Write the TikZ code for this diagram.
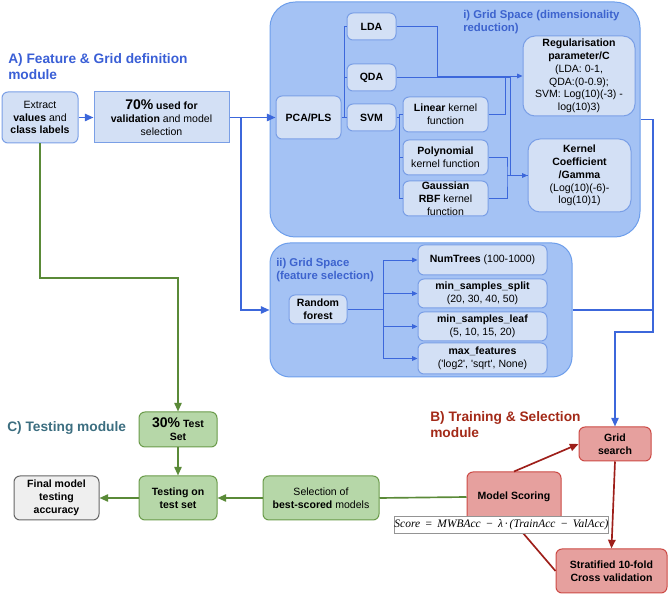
\documentclass[tikz,border=0pt]{standalone}
\usepackage{fontspec}
\setmainfont{Liberation Sans}
\newfontfamily\frmfont{Liberation Serif}
\usetikzlibrary{arrows.meta}
\definecolor{pfill}{HTML}{A4C2F4}
\definecolor{pline}{HTML}{6D9EEB}
\definecolor{bxfill}{HTML}{D3E0F5}
\definecolor{bxline}{HTML}{7A9FE6}
\definecolor{bluelink}{HTML}{3C67DB}
\definecolor{titA}{HTML}{3A5FD6}
\definecolor{titI}{HTML}{3D63CE}
\definecolor{gfill}{HTML}{B6D7A8}
\definecolor{gline}{HTML}{6A9B4A}
\definecolor{glink}{HTML}{5A8A38}
\definecolor{titC}{HTML}{3C6E80}
\definecolor{titB}{HTML}{A32A18}
\definecolor{rfill}{HTML}{E6A09E}
\definecolor{rline}{HTML}{CC4A45}
\definecolor{rlink}{HTML}{9E1F1A}
\definecolor{gyfill}{HTML}{EFEFEF}
\definecolor{gyline}{HTML}{666666}
\newcommand\mybox{\fontsize{7.9}{9.6}\selectfont}
\newcommand\myhead{\fontsize{10.3}{12}\selectfont\bfseries}
\newcommand\mypanel{\fontsize{8.5}{10.1}\selectfont\bfseries}
\newcommand\mybig{\fontsize{10.5}{10.5}\selectfont\bfseries}
\begin{document}
\begin{tikzpicture}[x=0.75pt,y=-0.75pt,
  spanbox/.style n args={4}{minimum width={(#3-#1)*0.75pt}, minimum height={(#4-#2)*0.75pt}, at={({(#1+#3)/2},{(#2+#4)/2})}},
  bb/.style={draw=bxline, fill=bxfill, line width=0.75pt, rounded corners=4.5pt, inner sep=0pt, align=center, font=\mybox},
  gb/.style={bb, draw=gline, fill=gfill},
  rb/.style={bb, draw=rline, fill=rfill},
  gyb/.style={bb, draw=gyline, fill=gyfill},
  panel/.style={draw=pline, fill=pfill, line width=0.75pt, inner sep=0pt},
  ttl/.style={anchor=north west, inner sep=0pt, align=left},
  blueArrow/.style={draw=bluelink, line width=1.25pt, -{Triangle[length=6.5pt,width=5.5pt]}},
  blueLine/.style={draw=bluelink, line width=1.25pt},
  thinLine/.style={draw=bluelink, line width=0.7pt},
  thinArrow/.style={draw=bluelink, line width=0.7pt, -{Triangle[length=4pt,width=3.5pt]}},
  greenArrow/.style={draw=glink, line width=1.25pt, -{Triangle[length=6.5pt,width=5.5pt]}},
  greenLine/.style={draw=glink, line width=1.25pt},
  redArrow/.style={draw=rlink, line width=1.25pt, -{Triangle[length=6.5pt,width=5.5pt]}}
]
\useasboundingbox (0,0) rectangle (669,595);

% titles
\node[ttl, font=\myhead, text=titA] (titleA) at (8,53) {A) Feature \& Grid definition\\module};
\node[ttl, font=\myhead, text=titC] (titleC) at (7,421.5) {C) Testing module};
\node[ttl, font=\myhead, text=titB] (titleB) at (430,411.5) {B) Training \& Selection\\module};

% panels
\node[panel, rounded corners=19pt, spanbox={270}{2}{640}{237}] (paneli) {};
\node[panel, rounded corners=15pt, spanbox={270}{243}{572}{377}] (panelii) {};
\node[ttl, font=\mypanel, text=titI] (titlei) at (463,10) {i) Grid Space (dimensionality\\reduction)};
\node[ttl, font=\mypanel, text=titI] (titleii) at (276,258) {ii) Grid Space\\(feature selection)};

% feature & grid definition
\node[bb, spanbox={2}{92}{78}{143}] (extract) {Extract\\\textbf{values} and\\\textbf{class labels}};
\node[bb, sharp corners, spanbox={94}{92}{229}{143}] (seventy) {{\mybig 70\%} \textbf{used for}\\\textbf{validation} and model\\selection};

% panel i
\node[bb, spanbox={276}{96}{341}{139}] (pca) {\textbf{PCA/PLS}};
\node[bb, spanbox={347}{13}{396}{40}] (lda) {\textbf{LDA}};
\node[bb, spanbox={347}{64}{396}{91}] (qda) {\textbf{QDA}};
\node[bb, spanbox={347}{104}{396}{131}] (svm) {\textbf{SVM}};
\node[bb, spanbox={403}{97}{488}{132}] (linear) {\textbf{Linear} kernel\\function};
\node[bb, spanbox={403}{140}{488}{175}] (poly) {\textbf{Polynomial}\\kernel function};
\node[bb, spanbox={403}{181}{488}{216}] (gauss) {\textbf{Gaussian}\\\textbf{RBF} kernel\\function};
\node[bb, rounded corners=9pt, spanbox={523}{36}{635}{116}] (reg) {\textbf{Regularisation}\\\textbf{parameter/C}\\(LDA: 0-1,\\QDA:(0-0.9);\\SVM: Log(10)(-3) -\\log(10)3)};
\node[bb, rounded corners=9pt, spanbox={528}{139}{631}{212}] (kern) {\textbf{Kernel}\\\textbf{Coefficient}\\\textbf{/Gamma}\\(Log(10)(-6)-\\log(10)1)};

% panel ii
\node[bb, spanbox={289}{295}{347}{324}] (rf) {\textbf{Random}\\\textbf{forest}};
\node[bb, spanbox={418}{245}{547}{275}] (numtrees) {\textbf{NumTrees} (100-1000)};
\node[bb, spanbox={418}{279}{547}{308}] (split) {\textbf{min\_samples\_split}\\(20, 30, 40, 50)};
\node[bb, spanbox={418}{312}{547}{341}] (leaf) {\textbf{min\_samples\_leaf}\\(5, 10, 15, 20)};
\node[bb, spanbox={418}{343}{547}{374}] (maxf) {\textbf{max\_features}\\(\textquotesingle log2\textquotesingle, \textquotesingle sqrt\textquotesingle, None)};

% testing module
\node[gb, spanbox={139}{412}{217}{447}] (test30) {{\mybig 30\%} \textbf{Test}\\\textbf{Set}};
\node[gb, spanbox={139}{476}{217}{520}] (testing) {\textbf{Testing on}\\\textbf{test set}};
\node[gyb, spanbox={14}{476}{99}{520}] (final) {\textbf{Final model}\\\textbf{testing}\\\textbf{accuracy}};
\node[gb, spanbox={263}{476}{379}{520}] (selection) {Selection of\\\textbf{best-scored} models};

% training module
\node[rb, spanbox={467}{472}{561}{522}] (scoring) {\textbf{Model Scoring}};
\node[rb, spanbox={579}{427}{651}{461}] (grid) {\textbf{Grid}\\\textbf{search}};
\node[rb, spanbox={556}{549}{667}{593}] (strat) {\textbf{Stratified 10-fold}\\\textbf{Cross validation}};

% coordinates
\coordinate (br) at (241,117.5);
\coordinate (pj) at (344.5,117.5);
\coordinate (sj) at (399.5,117.5);
\coordinate (rj) at (437,76);
\coordinate (lj) at (505,76);
\coordinate (kj) at (510,76);
\coordinate (pgc) at (507,175.5);
\coordinate (oc) at (653,332);
\coordinate (fj) at (383,309.5);
\coordinate (gj) at (40,278);

% blue connectors
\draw[blueArrow] (extract) -- (seventy);
\draw[blueArrow] (seventy) -- (pca);
\draw[blueArrow] (br) |- (panelii.west);
\draw[blueArrow] (paneli.east) -| (oc) -| (grid.north);
\draw[blueLine] (panelii.east) -- (panelii.east -| oc);

% panel i lines
\draw[thinLine] (pca.east) -- (pj) |- (lda.west);
\draw[thinLine] (pj) |- (qda.west);
\draw[thinLine] (pj) -- (svm.west);
\draw[thinLine] (svm.east) -- (sj) |- (linear.west);
\draw[thinLine] (sj) |- (poly.west);
\draw[thinLine] (sj) |- (gauss.west);
\draw[thinLine] (lda.east) -| (rj);
\draw[thinArrow] (rj) -- (reg.west);
\draw[thinLine] (qda.east) -- (qda.east -| kj);
\draw[thinLine] (linear.east) -| (lj);
\draw[thinLine] (kj) |- (kern.west);
\draw[thinLine] (poly.east) -| (pgc) |- (gauss.east);
\draw[thinArrow] (pgc) -- (kern.west);

% panel ii lines
\draw[thinLine] (rf.east) -- (fj);
\draw[thinArrow] (fj) |- (numtrees.west);
\draw[thinArrow] (fj) |- (split.west);
\draw[thinArrow] (fj) |- (leaf.west);
\draw[thinArrow] (fj) |- (maxf.west);

% green connectors
\draw[greenArrow] (extract.south) -- (gj) -| (test30.north);
\draw[greenArrow] (test30) -- (testing);
\draw[greenArrow] (testing) -- (final);
\draw[greenArrow] (selection) -- (testing);
\draw[greenLine] (scoring.west) -- (selection.east);

% red connectors
\draw[redArrow] (scoring.north) -- (grid.west);
\draw[redArrow] (grid.south) -- (strat.north);
\draw[redArrow] (strat.west) -- (scoring.south);

% formula
\node[draw=gyline!70, fill=white, line width=0.6pt, inner sep=0pt, spanbox={396}{516}{607}{533}, font=\frmfont\itshape\fontsize{8.6}{9}\selectfont] (formula) {Score\, =\, MWBAcc\, −\, λ\,·\,(TrainAcc\, −\, ValAcc)};
\end{tikzpicture}
\end{document}
